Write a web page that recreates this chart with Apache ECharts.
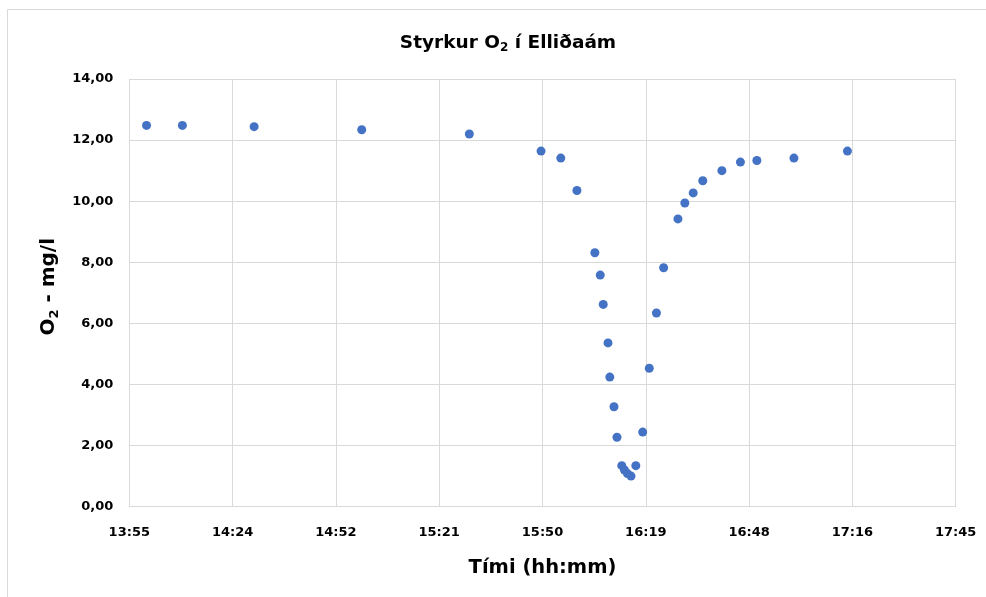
<!DOCTYPE html>
<html>
<head>
<meta charset="utf-8">
<script src="https://cdn.jsdelivr.net/npm/echarts@6/dist/echarts.min.js"></script>
<style>
html,body{margin:0;padding:0;background:#fff;}
#chart{width:986px;height:597px;}
</style>
</head>
<body>
<div id="chart"></div>
<script>
// Sample times (hh:mm:ss) and dissolved O2 (mg/l)
const times = [
  "14:00:00","14:10:00","14:30:00","15:00:00","15:30:00","15:50:00","15:55:30","16:00:00",
  "16:05:00","16:06:30","16:07:20","16:08:40","16:09:10","16:10:20","16:11:10","16:12:30",
  "16:13:15","16:14:05","16:15:05","16:16:25","16:18:20","16:20:10","16:22:10","16:24:10",
  "16:28:10","16:30:05","16:32:25","16:35:05","16:40:25","16:45:35","16:50:10","17:00:30","17:15:25"
];
const o2 = [
  12.48, 12.48, 12.44, 12.34, 12.20, 11.64, 11.41, 10.35,
  8.31, 7.58, 6.62, 5.36, 4.24, 3.27, 2.27, 1.34,
  1.20, 1.08, 1.00, 1.34, 2.44, 4.53, 6.34, 7.82,
  9.42, 9.94, 10.27, 10.67, 11.00, 11.28, 11.33, 11.41, 11.64
];
const yTicks = {min: 0, max: 14, step: 2};
const xTicksMinutes = {min: 835.2, max: 1065.6, step: 28.8}; // 13:55 ... 17:45

function toMinutes(s){
  const p = s.split(':').map(Number);
  return p[0]*60 + p[1] + (p[2]||0)/60;
}
function fmtTime(v){
  const m = Math.floor(v + 1e-6);
  const h = Math.floor(m/60), mm = m % 60;
  return h + ':' + (mm<10?'0':'') + mm;
}
const points = times.map((t,i)=>[toMinutes(t), o2[i]]);

const font = 'DejaVu Sans';
const chart = echarts.init(document.getElementById('chart'), null, {renderer:'canvas'});
chart.setOption({
  animation: false,
  backgroundColor: '#fff',
  graphic: [{
    type: 'rect', silent: true, z: -1,
    shape: {x: 7.5, y: 9.5, width: 1100, height: 1100},
    style: {fill: 'none', stroke: '#d9d9d9', lineWidth: 1}
  }],
  title: {
    text: '{t|Styrkur O}{s|2}{t| í Elliðaám}',
    left: 503, top: 27, textAlign: 'center',
    textStyle: {
      rich: {
        t: {fontFamily: font, fontWeight: 'bold', fontSize: 18.5, color: '#000'},
        s: {fontFamily: font, fontWeight: 'bold', fontSize: 12, color: '#000', padding: [10,0,0,0]}
      }
    }
  },
  grid: {left: 129.3, right: 30.3, top: 79, bottom: 90.4, containLabel: false},
  xAxis: {
    type: 'value',
    min: xTicksMinutes.min, max: xTicksMinutes.max, interval: xTicksMinutes.step,
    name: 'Tími (hh:mm)', nameLocation: 'middle', nameGap: 51,
    nameTextStyle: {fontFamily: font, fontWeight: 'bold', fontSize: 19.5, color: '#000'},
    axisLine: {show: true, lineStyle: {color: '#d9d9d9', width: 1}},
    axisTick: {show: false},
    axisLabel: {formatter: fmtTime, fontFamily: font, fontWeight: 'bold', fontSize: 13, color: '#000', margin: 20},
    splitLine: {show: true, lineStyle: {color: '#d9d9d9', width: 1}}
  },
  yAxis: {
    type: 'value',
    min: yTicks.min, max: yTicks.max, interval: yTicks.step,
    name: '{t|O}{s|2}{t| - mg/l}', nameLocation: 'middle', nameGap: 64, nameRotate: 90,
    nameTextStyle: {
      padding: [0, 0, 0, 12],
      rich: {
        t: {fontFamily: font, fontWeight: 'bold', fontSize: 20, color: '#000'},
        s: {fontFamily: font, fontWeight: 'bold', fontSize: 13, color: '#000', padding: [11,0,0,0]}
      }
    },
    axisLine: {show: false},
    axisTick: {show: false},
    axisLabel: {formatter: v => v.toFixed(2).replace('.', ','), fontFamily: font, fontWeight: 'bold', fontSize: 13, color: '#000', margin: 16},
    splitLine: {show: true, lineStyle: {color: '#d9d9d9', width: 1}}
  },
  series: [{
    type: 'scatter',
    data: points,
    symbol: 'circle',
    symbolSize: 9,
    itemStyle: {color: '#4472C4', opacity: 1}
  }]
});
</script>
</body>
</html>
